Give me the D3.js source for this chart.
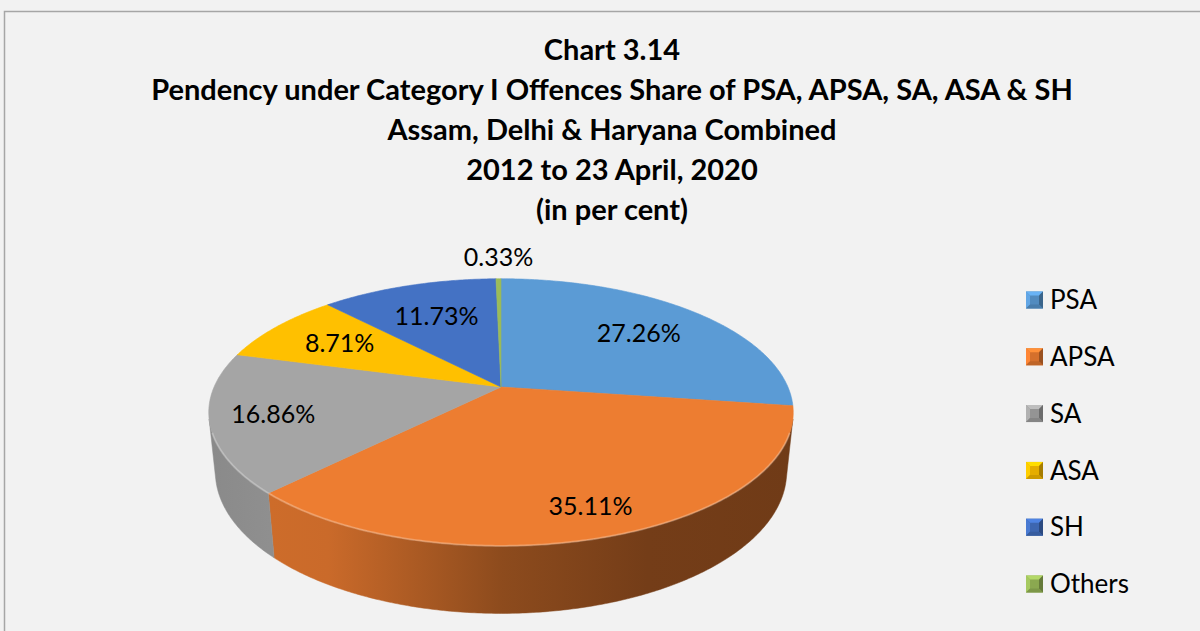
<!DOCTYPE html>
<html>
<head>
<meta charset="utf-8">
<script src="https://cdn.jsdelivr.net/npm/d3@7"></script>
<style>
  body { margin: 0; background: #f2f2f2; }
  svg { display: block; }
  text { font-family: Lato, "Open Sans", sans-serif; fill: #000; }
</style>
</head>
<body>
<script>
/* chart data */
var categories = ["PSA", "APSA", "SA", "ASA", "SH", "Others"];
var shares = [27.26, 35.11, 16.86, 8.71, 11.73, 0.33];
var labels = ["27.26%", "35.11%", "16.86%", "8.71%", "11.73%", "0.33%"];
var titleLines = [
  "Chart 3.14",
  "Pendency under Category I Offences Share of PSA, APSA, SA, ASA & SH",
  "Assam, Delhi & Haryana Combined",
  "2012 to 23 April, 2020",
  "(in per cent)"
];

var colors = ["#5b9bd5", "#ed7d31", "#a5a5a5", "#ffc000", "#4472c4", "#9bbb59"];

var width = 1200, height = 631;

var svg = d3.select("body").append("svg")
  .attr("width", width)
  .attr("height", height);

// chart frame
svg.append("rect")
  .attr("x", 4.5).attr("y", 11.5)
  .attr("width", 1210).attr("height", 640)
  .attr("fill", "#f2f2f2")
  .attr("stroke", "#a6a6a6")
  .attr("stroke-width", 1.5);

// title
svg.append("g").selectAll("text")
  .data(titleLines)
  .enter().append("text")
  .attr("x", 612)
  .attr("y", function (d, i) { return 60 + i * 40; })
  .attr("text-anchor", "middle")
  .attr("font-size", "29px")
  .attr("font-weight", "bold")
  .text(function (d) { return d; });

/*
  3D pie: a disc seen from above with perspective.
  phi runs clockwise from the back (12 o'clock), like Excel.
*/
var cx = 501, cy = 387;
var tilt = Math.asin(0.4488);
var sn = Math.sin(tilt), cs = Math.cos(tilt);
var camD = 4.712, focal = 1352, thick = 0.233;

function proj(phi, r, h) {
  var X = r * Math.sin(phi), Zb = r * Math.cos(phi);
  var depth = camD - h * sn + Zb * cs;
  var up = h * cs + Zb * sn;
  return [cx + focal * X / depth, cy - focal * up / depth];
}

var pie = d3.pie().sort(null).value(function (d) { return d; });
var arcs = pie(shares);

var line = d3.line();

function arcPoints(a0, a1, r, h) {
  var n = Math.max(2, Math.ceil((a1 - a0) / 0.01));
  var pts = [];
  for (var i = 0; i <= n; i++) pts.push(proj(a0 + (a1 - a0) * i / n, r, h));
  return pts;
}

// visible range of the outer wall
var lim = Math.acos(-1 / (camD * cs));
var sideLo = lim, sideHi = 2 * Math.PI - lim;

var defs = svg.append("defs");
colors.forEach(function (c, i) {
  var g = defs.append("linearGradient")
    .attr("id", "side" + i)
    .attr("gradientUnits", "userSpaceOnUse")
    .attr("x1", 212).attr("x2", 792).attr("y1", 0).attr("y2", 0);
  var base = d3.color(c);
  g.append("stop").attr("offset", 0).attr("stop-color", base.darker(0.5));
  g.append("stop").attr("offset", 0.1).attr("stop-color", base.darker(0.4));
  g.append("stop").attr("offset", 0.2).attr("stop-color", base.darker(0.45));
  g.append("stop").attr("offset", 0.5).attr("stop-color", base.darker(1.45));
  g.append("stop").attr("offset", 0.75).attr("stop-color", base.darker(2.0));
  g.append("stop").attr("offset", 1).attr("stop-color", base.darker(2.1));
});

var pieG = svg.append("g");

// outer walls
arcs.forEach(function (a, i) {
  var lo = Math.max(a.startAngle, sideLo), hi = Math.min(a.endAngle, sideHi);
  if (hi <= lo) return;
  var pts = arcPoints(lo, hi, 1, 0).concat(arcPoints(lo, hi, 1, -thick).reverse());
  pieG.append("path")
    .attr("d", line(pts) + "Z")
    .attr("fill", "url(#side" + i + ")")
    .attr("stroke", "url(#side" + i + ")")
    .attr("stroke-width", 0.5);
});

// top faces
arcs.forEach(function (a, i) {
  var pts = [proj(0, 0, 0)].concat(arcPoints(a.startAngle, a.endAngle, 1, 0));
  pieG.append("path")
    .attr("d", line(pts) + "Z")
    .attr("fill", colors[i])
    .attr("stroke", colors[i])
    .attr("stroke-width", 0.6);
});

// soft highlight on the front rim
pieG.append("path")
  .attr("d", line(arcPoints(sideLo + 0.1, sideHi - 0.1, 1, 0)))
  .attr("fill", "none")
  .attr("stroke", "#ffffff")
  .attr("stroke-opacity", 0.25)
  .attr("stroke-width", 2);

// data labels
var labelR = [0.69, 0.83, 0.79, 0.7, 0.66];
arcs.forEach(function (a, i) {
  var mid = (a.startAngle + a.endAngle) / 2;
  var p, dy = 0;
  if (i < labelR.length) {
    p = proj(mid, labelR[i], 0);
  } else {
    p = proj(mid, 1, 0);
    dy = -22;
  }
  svg.append("text")
    .attr("x", p[0])
    .attr("y", p[1] + dy)
    .attr("dy", "0.35em")
    .attr("text-anchor", "middle")
    .attr("font-size", "25px")
    .text(labels[i]);
});

// legend
var legendY = d3.scalePoint().domain(categories).range([300, 584]);
var lg = svg.append("g").selectAll("g")
  .data(categories)
  .enter().append("g")
  .attr("transform", function (d) { return "translate(1026," + legendY(d) + ")"; });

var s = 17, k = 4;
lg.each(function (d, i) {
  var g = d3.select(this);
  var c = d3.color(colors[i]);
  g.append("rect").attr("x", 0).attr("y", -s / 2).attr("width", s).attr("height", s)
    .attr("fill", c.darker(0.3));
  // bevel sides
  g.append("path").attr("d", line([[0, -s / 2], [s, -s / 2], [s - k, -s / 2 + k], [k, -s / 2 + k]]) + "Z")
    .attr("fill", c.brighter(0.4));
  g.append("path").attr("d", line([[0, -s / 2], [k, -s / 2 + k], [k, s / 2 - k], [0, s / 2]]) + "Z")
    .attr("fill", c.brighter(0.2));
  g.append("path").attr("d", line([[s, -s / 2], [s, s / 2], [s - k, s / 2 - k], [s - k, -s / 2 + k]]) + "Z")
    .attr("fill", c.darker(1.2));
  g.append("path").attr("d", line([[0, s / 2], [s, s / 2], [s - k, s / 2 - k], [k, s / 2 - k]]) + "Z")
    .attr("fill", c.darker(0.6));
  g.append("text")
    .attr("x", 24)
    .attr("y", 0)
    .attr("dy", "0.35em")
    .attr("font-size", "26px")
    .text(d);
});
</script>
</body>
</html>
